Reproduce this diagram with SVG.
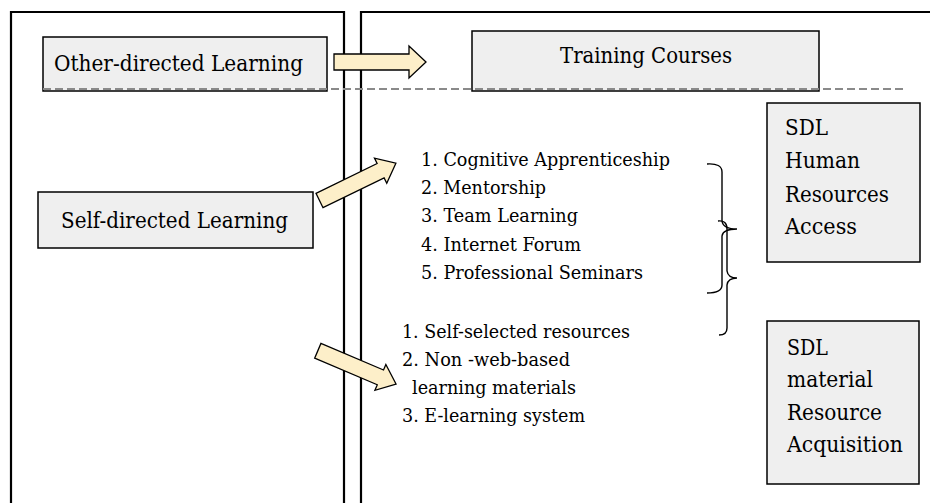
<svg xmlns="http://www.w3.org/2000/svg" width="930" height="503" viewBox="0 0 930 503">
<style>
.frame{fill:none;stroke:#000;stroke-width:2.2}
.box{fill:#efefef;stroke:#000;stroke-width:1.5}
.arrow{fill:#fdefc9;stroke:#000;stroke-width:1.3;stroke-linejoin:miter}
.brace{fill:none;stroke:#000;stroke-width:1.4}
.dash{stroke:#8a8a8a;stroke-width:2.2;stroke-dasharray:8 4;fill:none}
text{font-family:"DejaVu Serif","Liberation Serif",serif;fill:#000}
.t{font-size:22px}
.l{font-size:18.5px}
</style>
<rect width="930" height="503" fill="#fff"/>
<g id="frames">
<path class="frame" d="M11,510 V12 H344 V510"/>
<path class="frame" d="M361,510 V12 H940"/>
</g>
<g id="other-directed">
<rect class="box" x="43" y="37" width="284" height="54"/>
<text class="t" x="54" y="71" textLength="249" lengthAdjust="spacingAndGlyphs">Other-directed Learning</text>
</g>
<g id="training-courses">
<rect class="box" x="472" y="31" width="347" height="60"/>
<text class="t" x="560" y="63" textLength="172" lengthAdjust="spacingAndGlyphs">Training Courses</text>
</g>
<g id="self-directed">
<rect class="box" x="38" y="192" width="275" height="56"/>
<text class="t" x="61" y="228" textLength="227" lengthAdjust="spacingAndGlyphs">Self-directed Learning</text>
</g>
<g id="sdl-human">
<rect class="box" x="767" y="103" width="153" height="159"/>
<text class="t" x="785" y="135" textLength="43" lengthAdjust="spacingAndGlyphs">SDL</text>
<text class="t" x="785" y="168" textLength="75" lengthAdjust="spacingAndGlyphs">Human</text>
<text class="t" x="785" y="202" textLength="104" lengthAdjust="spacingAndGlyphs">Resources</text>
<text class="t" x="785" y="234" textLength="72" lengthAdjust="spacingAndGlyphs">Access</text>
</g>
<g id="sdl-material">
<rect class="box" x="767" y="321" width="152" height="163"/>
<text class="t" x="787" y="355" textLength="41" lengthAdjust="spacingAndGlyphs">SDL</text>
<text class="t" x="787" y="387" textLength="86" lengthAdjust="spacingAndGlyphs">material</text>
<text class="t" x="787" y="420" textLength="95" lengthAdjust="spacingAndGlyphs">Resource</text>
<text class="t" x="787" y="452" textLength="116" lengthAdjust="spacingAndGlyphs">Acquisition</text>
</g>
<g id="human-list">
<text class="l" x="421" y="166" textLength="249" lengthAdjust="spacingAndGlyphs">1. Cognitive Apprenticeship</text>
<text class="l" x="421" y="194" textLength="125" lengthAdjust="spacingAndGlyphs">2. Mentorship</text>
<text class="l" x="421" y="222" textLength="157" lengthAdjust="spacingAndGlyphs">3. Team Learning</text>
<text class="l" x="421" y="251" textLength="160" lengthAdjust="spacingAndGlyphs">4. Internet Forum</text>
<text class="l" x="421" y="279" textLength="222" lengthAdjust="spacingAndGlyphs">5. Professional Seminars</text>
</g>
<g id="material-list">
<text class="l" x="402" y="338" textLength="228" lengthAdjust="spacingAndGlyphs">1. Self-selected resources</text>
<text class="l" x="402" y="366" textLength="168" lengthAdjust="spacingAndGlyphs">2. Non -web-based</text>
<text class="l" x="412" y="394" textLength="164" lengthAdjust="spacingAndGlyphs">learning materials</text>
<text class="l" x="402" y="422" textLength="183" lengthAdjust="spacingAndGlyphs">3. E-learning system</text>
</g>
<g id="connectors">
<path class="dash" d="M43,89 H905"/>
<polygon class="arrow" points="334,54 409,54 409,46 426,62 409,78 409,70 334,70"/>
<polygon class="arrow" transform="translate(319.5,200.5) rotate(-26)" points="0,-8 68,-8 68,-14 85,0 68,14 68,8 0,8"/>
<polygon class="arrow" transform="translate(317.8,350.8) rotate(23)" points="0,-8 68,-8 68,-14 85,0 68,14 68,8 0,8"/>
<path class="brace" d="M707,164 Q722,163 722,172 V221 Q723,229 737,229 M737,229 Q723,229 722,236 V285 Q722,293 707,293"/>
<path class="brace" d="M718,221 Q727,220 727,229 V271 Q728,278 737,278 M737,278 Q728,278 727,285 V328 Q727,335 719,335"/>
</g>
</svg>
